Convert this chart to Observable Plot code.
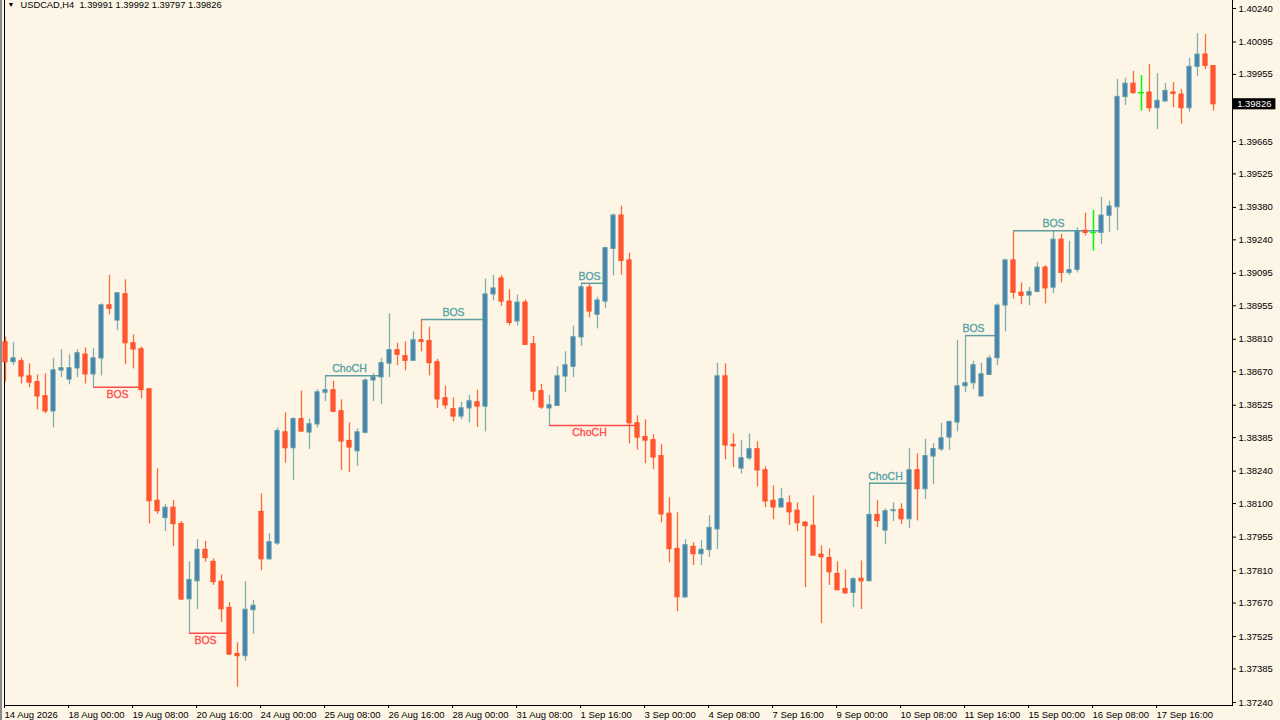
<!DOCTYPE html>
<html>
<head>
<meta charset="utf-8">
<script src="https://cdn.jsdelivr.net/npm/d3@7"></script>
<script src="https://cdn.jsdelivr.net/npm/@observablehq/plot@0.6"></script>
<style>
html,body{margin:0;padding:0;background:#FDF5E6;overflow:hidden}
#chart{width:1280px;height:720px;background:linear-gradient(90deg,#8c8c8c 0 2px,#FDF5E6 2px)}
svg{display:block;background:transparent !important;white-space:pre}
</style>
</head>
<body>
<div id="chart"></div>
<script>
// Prices in points (1e-5)
const opens = [
138797,138711,138715,138650,138625,138564,138498,138675,138636,138684,
138744,138658,138727,138957,138891,139005,138793,138767,138594,138112,
138037,138082,138012,137686,137764,137900,137848,137762,137649,137450,
137440,137639,138064,137859,137927,138408,138339,138465,138407,138442,
138579,138590,138499,138371,138326,138406,138632,138645,138705,138763,
138737,138717,138806,138802,138711,138555,138508,138476,138511,138538,
138519,139004,139073,138973,138887,138969,138789,138586,138511,138522,
138649,138691,138818,139034,138916,138973,139201,139345,139151,138447,
138388,138374,138305,138056,137904,137694,137913,137881,137899,137988,
138650,138354,138251,138295,138335,138244,138112,138083,138101,138069,
138018,138004,137879,137865,137796,137731,137714,137775,137764,138051,
137983,138067,138073,138032,138244,138162,138303,138334,138385,138450,
138607,138620,138563,138656,138728,138956,139151,139012,138999,139015,
139120,139033,139241,139097,139110,139279,139272,139270,139344,139381,
139857,139915,139876,139877,139809,139838,139877,139868,139809,139988,
140041,139991];
const highs = [
138819,138797,138728,138704,138656,138661,138728,138765,138743,138765,
138773,138769,138963,139087,139012,139067,138829,138776,138596,138250,
138096,138113,138022,137848,137943,137936,137861,137792,137672,137498,
137762,137681,138142,137969,138426,138492,138471,138586,138465,138592,
138653,138629,138548,138449,138423,138639,138661,138728,138920,138793,
138799,138842,138896,138862,138723,138607,138557,138538,138568,138590,
139070,139087,139085,139024,139001,138981,138823,138615,138568,138691,
138756,138867,139052,139047,138991,139208,139352,139385,139182,138479,
138462,138397,138354,138125,138060,137943,137931,137939,138047,138707,
138704,138401,138372,138401,138367,138259,138177,138164,138133,138103,
138021,138133,137917,137904,137848,137813,137779,137852,138188,138112,
138077,138103,138099,138337,138315,138378,138358,138447,138456,138806,
138826,138715,138707,138739,138963,139156,139279,139054,139035,139143,
139128,139279,139264,139234,139292,139355,139367,139424,139407,139933,
139939,139968,139950,139998,139959,139916,139920,139890,140024,140132,
140128,139992];
const lows = [
138625,138697,138617,138601,138505,138488,138427,138644,138613,138644,
138617,138603,138652,138916,138847,138700,138682,138553,138012,138053,
137979,137914,137681,137539,137642,137846,137746,137586,137443,137306,
137418,137535,137810,137854,137919,138274,138200,138409,138334,138427,
138541,138492,138243,138234,138260,138401,138541,138528,138644,138696,
138674,138716,138756,138652,138510,138507,138453,138462,138449,138429,
138410,138976,138952,138868,138868,138783,138544,138507,138437,138519,
138579,138644,138780,138903,138855,138944,139084,139087,138358,138331,
138272,138246,138017,137844,137633,137692,137832,137832,137867,137901,
138289,138256,138228,138285,138172,138083,138030,138081,138005,137979,
137737,137874,137581,137746,137724,137707,137650,137642,137762,137996,
137923,138022,138009,137991,138025,138117,138182,138325,138329,138410,
138580,138592,138560,138653,138696,138842,138983,138959,138955,139011,
138963,139007,139054,139087,139097,139256,139191,139221,139273,139280,
139821,139870,139796,139792,139717,139835,139812,139740,139792,139947,
139976,139797];
const closes = [
138711,138728,138649,138623,138563,138498,138676,138685,138685,138750,
138658,138728,138957,138942,139009,138793,138766,138590,138110,138067,
138082,138011,137685,137770,137900,137864,137760,137643,137447,137440,
137641,137658,137859,137933,138414,138339,138465,138411,138443,138581,
138590,138497,138368,138342,138408,138632,138646,138707,138763,138743,
138717,138806,138799,138707,138550,138524,138476,138512,138542,138519,
139004,139030,138973,138881,138969,138786,138584,138515,138525,138650,
138698,138819,139035,138930,138978,139204,139345,139149,138447,138385,
138372,138299,138053,137903,137695,137920,137881,137900,137995,138650,
138351,138347,138296,138335,138243,138109,138083,138119,138062,138015,
138002,137875,137868,137803,137725,137712,137773,137764,138051,138024,
138067,138071,138032,138244,138162,138305,138336,138382,138453,138607,
138620,138698,138659,138727,138956,139151,139011,138998,139015,139120,
139030,139241,139097,139109,139277,139270,139272,139345,139384,139858,
139915,139874,139876,139809,139841,139884,139871,139809,139988,140041,
139992,139826];

const yTicks = [1.40240,1.40095,1.39955,1.39665,1.39525,1.39380,1.39240,1.39095,1.38955,1.38810,1.38670,1.38525,1.38385,1.38240,1.38100,1.37955,1.37810,1.37670,1.37525,1.37385,1.37240];
const xTickCandles = [0,8,16,24,32,40,48,56,64,72,80,88,96,104,112,120,128,136,144];
const xTickLabels = ["14 Aug 2026","18 Aug 00:00","19 Aug 08:00","20 Aug 16:00","24 Aug 00:00","25 Aug 08:00","26 Aug 16:00","28 Aug 00:00","31 Aug 08:00","1 Sep 16:00","3 Sep 00:00","4 Sep 08:00","7 Sep 16:00","9 Sep 00:00","10 Sep 08:00","11 Sep 16:00","15 Sep 00:00","16 Sep 08:00","17 Sep 16:00"];

// Market-structure annotations
const sLabels = ["BOS","BOS","ChoCH","BOS","BOS","ChoCH","ChoCH","BOS","BOS"];
const sBear   = [true,true,false,false,false,true,false,false,false];
const sStart  = [11,23,40,52,72,68,108,120,126];
const sEnd    = [17,28,47,60,75,79,113,124,137];
const sLabelAt= [14,25,43,56,73,73,110,121,131];
const sPrice  = [138603,137539,138653,138896,139052,138437,138188,138826,139279];

const header = "USDCAD,H4  1.39991 1.39992 1.39797 1.39826";
const lastPrice = "1.39826";

const BLUE="#4682B4", TEAL="#5F9EA0", LABEL_TEAL="#4FA3A5", ORANGE="#FF5733", WICK_O="#FF6A3A", LIME="#00FF00", RED="#FF4A4A";
const candles = opens.map((o,i)=>({i,open:o/1e5,high:highs[i]/1e5,low:lows[i]/1e5,close:closes[i]/1e5}));
const up = candles.filter(d=>d.close>d.open);
const down = candles.filter(d=>d.close<d.open);
const doji = candles.filter(d=>d.close===d.open);
const structure = sLabels.map((t,k)=>({t,bear:sBear[k],a:sStart[k],b:sEnd[k],at:sLabelAt[k],p:sPrice[k]/1e5}));
const bull = structure.filter(d=>!d.bear), bear = structure.filter(d=>d.bear);
const HALF=0.26;
const body = (data,fill,stroke)=>Plot.rect(data,{x1:d=>d.i-HALF,x2:d=>d.i+HALF,y1:"open",y2:"close",fill,stroke,strokeWidth:1});
const tagY = closes[closes.length-1]/1e5;

const chart = Plot.plot({
  width:1280,height:720,
  marginLeft:4,marginRight:48,marginTop:0,marginBottom:15,
  x:{type:"linear",domain:[0,151],range:[5,1213]},
  y:{type:"linear",domain:[1.3724,1.4024],range:[702,8]},
  style:{background:"transparent",color:"#000",fontFamily:"'Liberation Sans',sans-serif",fontSize:"9.5px"},
  marks:[
    Plot.frame({anchor:"left",stroke:"#000"}),
    Plot.frame({anchor:"right",stroke:"#000"}),
    Plot.frame({anchor:"bottom",stroke:"#000"}),
    Plot.axisY(yTicks,{anchor:"right",tickSize:3,tickPadding:3,tickFormat:d3.format(".5f"),label:null,fontSize:9.5,strokeWidth:1}),
    Plot.axisX(xTickCandles,{anchor:"bottom",tickSize:3,tickPadding:3,label:null,textAnchor:"start",dx:-1,fontSize:9.5,
      tickFormat:d=>xTickLabels[xTickCandles.indexOf(d)]}),
    Plot.ruleX(up,{x:"i",y1:"low",y2:"high",stroke:TEAL,strokeWidth:1.3,strokeOpacity:.8}),
    Plot.ruleX(down,{x:"i",y1:"low",y2:"high",stroke:WICK_O,strokeWidth:1.3}),
    Plot.ruleX(doji,{x:"i",y1:"low",y2:"high",stroke:LIME,strokeWidth:1.5}),
    Plot.ruleY(doji,{x1:d=>d.i-HALF-.1,x2:d=>d.i+HALF+.1,y:"close",stroke:LIME,strokeWidth:1.5}),
    Plot.ruleY(bull,{x1:"a",x2:"b",y:"p",stroke:TEAL,strokeWidth:1.5}),
    Plot.ruleY(bear,{x1:"a",x2:"b",y:"p",stroke:RED,strokeWidth:1.5}),
    body(up,BLUE,TEAL),
    body(down,ORANGE,"#FF4F22"),
    Plot.text(bull,{x:"at",y:"p",text:"t",dy:-7,fill:LABEL_TEAL,fontSize:10.5,stroke:LABEL_TEAL,strokeWidth:.3,lineAnchor:"middle"}),
    Plot.text(bear,{x:"at",y:"p",text:"t",dy:7,fill:RED,fontSize:10.5,stroke:RED,strokeWidth:.3,lineAnchor:"middle"}),
    Plot.text(["▼"],{frameAnchor:"top-left",dx:3,dy:2,fontSize:7,textAnchor:"start",lineAnchor:"top",fill:"#000"}),
    Plot.text([header],{frameAnchor:"top-left",dx:16,dy:1,fontSize:9.3,textAnchor:"start",lineAnchor:"top",fill:"#000"}),
    Plot.rect([0],{x1:153.5,x2:158.8,y1:tagY-.00024,y2:tagY+.00024,fill:"#000"}),
    Plot.text([lastPrice],{x:156.1,y:tagY,fill:"#fff",fontSize:9.5,lineAnchor:"middle"})
  ]
});
document.getElementById("chart").appendChild(chart);
</script>
</body>
</html>
